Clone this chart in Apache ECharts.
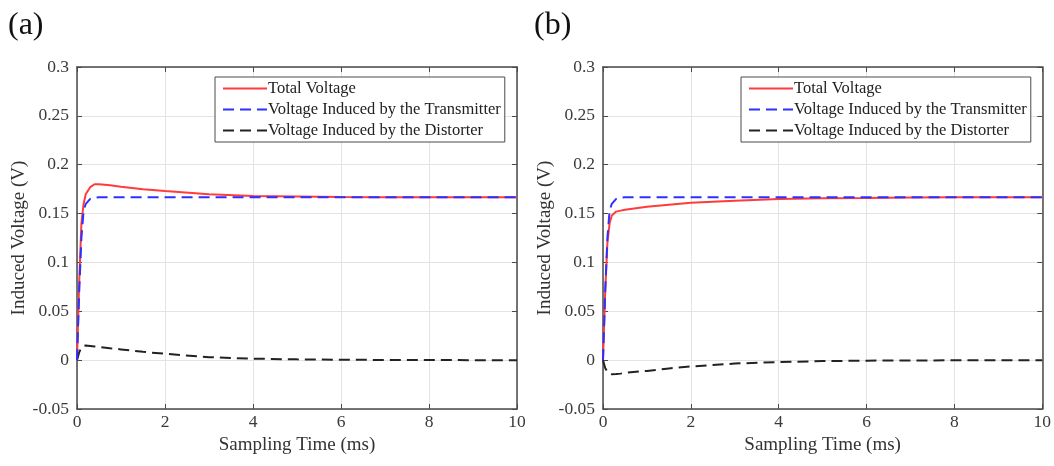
<!DOCTYPE html>
<html>
<head>
<meta charset="utf-8">
<script src="https://cdn.jsdelivr.net/npm/echarts@6/dist/echarts.min.js"></script>
<style>
  html, body { margin: 0; padding: 0; background: #fff; }
  #chart { width: 1054px; height: 466px; }
</style>
</head>
<body>
<div id="chart"></div>
<script>
// sampling times (ms)
const times = [0, 0.05, 0.1, 0.15, 0.2, 0.3, 0.4, 0.5, 0.75, 1, 1.5, 2, 3, 4, 5, 6, 7, 8, 9, 10];

// panel (a)
const totalA       = [0, 0.08, 0.14, 0.16, 0.17, 0.177, 0.18, 0.18, 0.179, 0.1775, 0.175, 0.173, 0.1697, 0.168, 0.1675, 0.167, 0.1668, 0.1667, 0.1667, 0.1667];
const transmitterA = [0, 0.07, 0.125, 0.153, 0.16, 0.165, 0.1662, 0.1667, 0.1667, 0.1667, 0.1667, 0.1667, 0.1667, 0.1667, 0.1667, 0.1667, 0.1667, 0.1667, 0.1667, 0.1667];
const distorterA   = [0, 0.008, 0.013, 0.0145, 0.015, 0.0145, 0.014, 0.0135, 0.0122, 0.011, 0.0085, 0.0065, 0.003, 0.0015, 0.0008, 0.0004, 0.0002, 0.0001, 0, 0];

// panel (b)
const totalB       = [0, 0.07, 0.12, 0.14, 0.148, 0.152, 0.153, 0.154, 0.1555, 0.157, 0.159, 0.161, 0.163, 0.165, 0.1657, 0.166, 0.1664, 0.1667, 0.1667, 0.1667];
const transmitterB = transmitterA;
const distorterB   = [0, -0.008, -0.012, -0.014, -0.0145, -0.0142, -0.0138, -0.013, -0.012, -0.011, -0.0085, -0.0065, -0.0035, -0.002, -0.001, -0.0005, -0.0003, -0.0002, -0.0001, 0];

const yTicks = { min: -0.05, max: 0.3, interval: 0.05 };
const xTicks = { min: 0, max: 10, interval: 2 };

const names = ['Total Voltage', 'Voltage Induced by the Transmitter', 'Voltage Induced by the Distorter'];

const serif = '"Liberation Serif", "DejaVu Serif", serif';
const frame = '#4a4a4a';
const dash = [11, 6];

function pairs(vals) {
    return times.map((t, i) => [t, vals[i]]);
}

function xAxes(gi) {
    return [
        {
            gridIndex: gi, type: 'value', min: xTicks.min, max: xTicks.max, interval: xTicks.interval,
            name: 'Sampling Time (ms)', nameLocation: 'middle', nameGap: 25,
            nameTextStyle: { fontFamily: serif, fontSize: 19, color: '#333' },
            axisLine: { onZero: false, lineStyle: { color: frame, width: 1.5 } },
            axisTick: { inside: true, length: 5, lineStyle: { color: frame } },
            axisLabel: { fontFamily: serif, fontSize: 17.5, color: '#3a3a3a', margin: 4 },
            splitLine: { show: true, lineStyle: { color: '#e3e3e3' } }
        },
        {
            gridIndex: gi, type: 'value', position: 'top', min: xTicks.min, max: xTicks.max, interval: xTicks.interval,
            axisLine: { onZero: false, lineStyle: { color: frame, width: 1.5 } },
            axisTick: { inside: true, length: 5, lineStyle: { color: frame } },
            axisLabel: { show: false },
            splitLine: { show: false }
        }
    ];
}

function yAxes(gi) {
    return [
        {
            gridIndex: gi, type: 'value', min: yTicks.min, max: yTicks.max, interval: yTicks.interval,
            name: 'Induced Voltage (V)', nameLocation: 'middle', nameGap: 45,
            nameTextStyle: { fontFamily: serif, fontSize: 19, color: '#333' },
            axisLine: { onZero: false, lineStyle: { color: frame, width: 1.5 } },
            axisTick: { inside: true, length: 5, lineStyle: { color: frame } },
            axisLabel: { fontFamily: serif, fontSize: 17.5, color: '#3a3a3a', margin: 8,
                formatter: v => String(+v.toFixed(2)) },
            splitLine: { show: true, lineStyle: { color: '#e3e3e3' } }
        },
        {
            gridIndex: gi, type: 'value', position: 'right', min: yTicks.min, max: yTicks.max, interval: yTicks.interval,
            axisLine: { onZero: false, lineStyle: { color: frame, width: 1.5 } },
            axisTick: { inside: true, length: 5, lineStyle: { color: frame } },
            axisLabel: { show: false },
            splitLine: { show: false }
        }
    ];
}

function panelSeries(gi, total, trans, dist) {
    const xi = gi * 2, yi = gi * 2;
    return [
        { name: names[0], type: 'line', xAxisIndex: xi, yAxisIndex: yi, symbol: 'none', z: 3,
          lineStyle: { color: '#ff3b3b', width: 2 }, itemStyle: { color: '#ff3b3b' }, data: pairs(total) },
        { name: names[1], type: 'line', xAxisIndex: xi, yAxisIndex: yi, symbol: 'none', z: 4,
          lineStyle: { color: '#2f2fff', width: 2, type: dash }, itemStyle: { color: '#2f2fff' }, data: pairs(trans) },
        { name: names[2], type: 'line', xAxisIndex: xi, yAxisIndex: yi, symbol: 'none', z: 3,
          lineStyle: { color: '#222', width: 2, type: dash }, itemStyle: { color: '#222' }, data: pairs(dist) }
    ];
}

function legendAt(left) {
    return {
        orient: 'vertical', left: left, top: 77,
        data: names, selectedMode: false,
        backgroundColor: '#fff', borderColor: frame, borderWidth: 1,
        padding: [3, 4, 3, 7], itemGap: 4, itemWidth: 44, itemHeight: 17,
        itemStyle: { opacity: 0 },
        textStyle: { fontFamily: serif, fontSize: 16.5, color: '#222', padding: [0, 0, 0, -4] }
    };
}

const option = {
    backgroundColor: '#fff',
    animation: false,
    title: [
        { text: '(a)', left: 3, top: 5, textStyle: { fontFamily: serif, fontSize: 32, fontWeight: 'normal', color: '#111' } },
        { text: '(b)', left: 529, top: 5, textStyle: { fontFamily: serif, fontSize: 32, fontWeight: 'normal', color: '#111' } }
    ],
    grid: [
        { left: 77, right: 537, top: 67, bottom: 57 },
        { left: 603, right: 11, top: 67, bottom: 57 }
    ],
    xAxis: [...xAxes(0), ...xAxes(1)],
    yAxis: [...yAxes(0), ...yAxes(1)],
    legend: [legendAt(215), legendAt(741)],
    series: [
        ...panelSeries(0, totalA, transmitterA, distorterA),
        ...panelSeries(1, totalB, transmitterB, distorterB)
    ]
};

const chart = echarts.init(document.getElementById('chart'));
chart.setOption(option);
</script>
</body>
</html>
